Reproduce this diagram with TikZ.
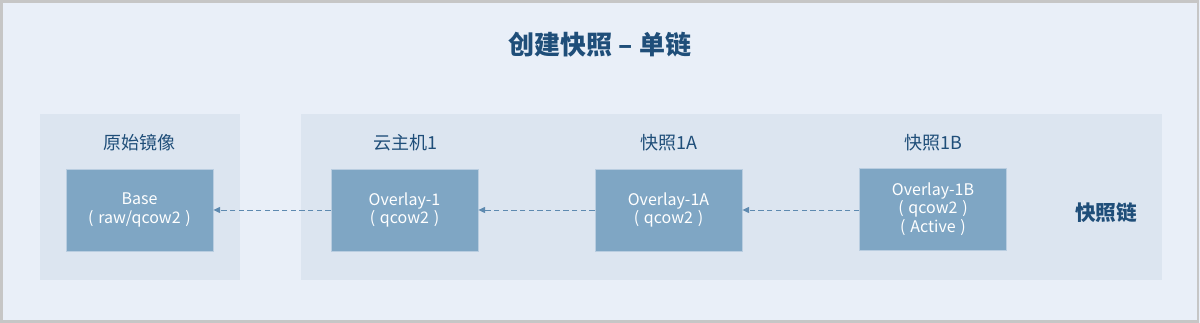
\documentclass[tikz,border=0pt]{standalone}
\usepackage{fontspec}
\setmainfont{Noto Sans CJK SC}
\usetikzlibrary{arrows.meta}
\definecolor{bgc}{HTML}{E9EFF8}
\definecolor{panelc}{HTML}{DCE5F0}
\definecolor{boxc}{HTML}{7FA6C4}
\definecolor{boxl}{HTML}{B9CDE0}
\definecolor{titlec}{HTML}{1F4E79}
\definecolor{arrc}{HTML}{5E8AB0}
\definecolor{framec}{HTML}{C6C6C6}
\newcommand{\ps}{\hspace{0.3em}}
\tikzset{
  panel/.style={fill=panelc, draw=none},
  imgbox/.style={fill=boxc, draw=boxl, line width=0.6pt, minimum width=147*0.75pt, minimum height=82*0.75pt, inner sep=0pt, text=white, align=center, font=\fontsize{12pt}{14pt}\selectfont},
  lbl/.style={text=titlec, font=\fontsize{13.5pt}{16pt}\selectfont, inner sep=0pt},
  conn/.style={arrc, dashed, dash pattern=on 4pt off 2.5pt, line width=0.7pt, -{Triangle[length=5pt,width=4.5pt]}}
}
\begin{document}
\begin{tikzpicture}[x=0.75pt, y=-0.75pt]
\useasboundingbox (0,0) rectangle (1200,323);
\fill[bgc] (0,0) rectangle (1200,323);
\draw[framec, line width=2.2pt] (1.5,1.5) rectangle (1198,321.5);
\node[text=titlec, font=\fontsize{19.5pt}{22pt}\selectfont\bfseries, inner sep=0pt] (title) at (600,45) {创建快照 – 单链};
\fill[panel] (40,114) rectangle (240,280);
\fill[panel] (301,114) rectangle (1162,280);
\node[lbl] (l0) at (139,143) {原始镜像};
\node[lbl] (l1) at (405,143) {云主机1};
\node[lbl] (l2) at (669,143) {快照1A};
\node[lbl] (l3) at (933,143) {快照1B};
\node[text=titlec, font=\fontsize{15.5pt}{18pt}\selectfont\bfseries, inner sep=0pt] (chain) at (1106,213) {快照链};
\node[imgbox] (base) at (139.5,210) {Base\\(\ps raw/qcow2\ps)};
\node[imgbox] (o1) at (404.5,210) {Overlay-1\\(\ps qcow2\ps)};
\node[imgbox] (o1a) at (668.5,210) {Overlay-1A\\(\ps qcow2\ps)};
\node[imgbox] (o1b) at (933,209) {Overlay-1B\\(\ps qcow2\ps)\\(\ps Active\ps)};
\draw[conn] (o1.west) -- (base.east);
\draw[conn] (o1a.west) -- (o1.east);
\draw[conn] (o1b.west |- o1a.east) -- (o1a.east);
\end{tikzpicture}
\end{document}
